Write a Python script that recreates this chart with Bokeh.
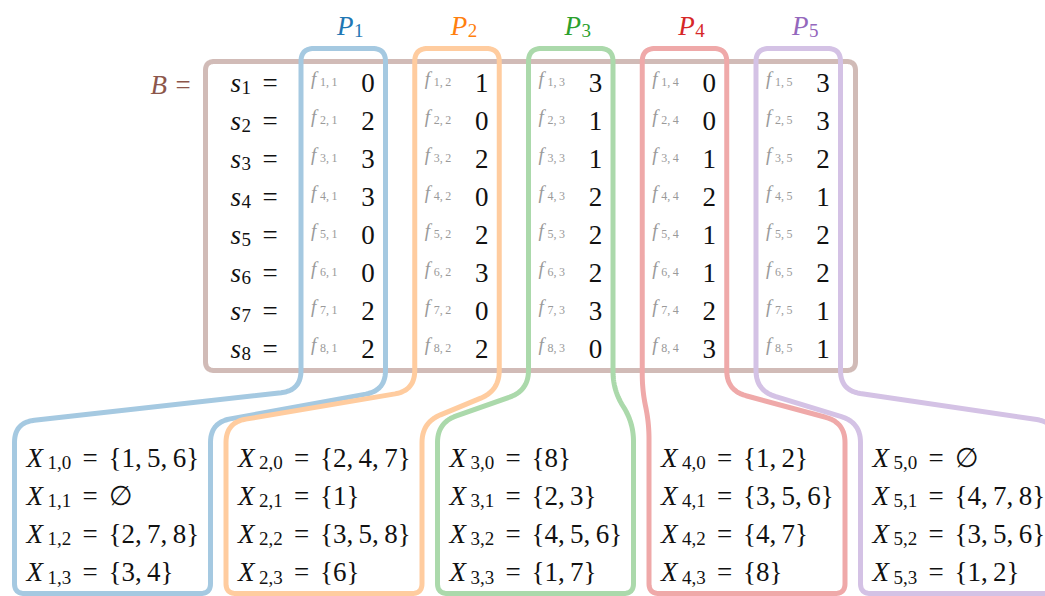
import math
from bokeh.plotting import figure
from bokeh.models import Range1d, ColumnDataSource
from bokeh.core.properties import value
from bokeh.embed import file_html
from bokeh.resources import INLINE

# ---------------- data ----------------
part_names = ["1", "2", "3", "4", "5"]          # P_1 .. P_5
row_names = ["1", "2", "3", "4", "5", "6", "7", "8"]  # s_1 .. s_8
p1_values = [0, 2, 3, 3, 0, 0, 2, 2]
p2_values = [1, 0, 2, 0, 2, 3, 0, 2]
p3_values = [3, 1, 1, 2, 2, 2, 3, 0]
p4_values = [0, 0, 1, 2, 1, 1, 2, 3]
p5_values = [3, 3, 2, 1, 2, 2, 1, 1]
value_levels = [0, 1, 2, 3]
columns = [p1_values, p2_values, p3_values, p4_values, p5_values]

# ---------------- styles ----------------
part_colors = ["#1f77b4", "#ff7f0e", "#2ca02c", "#d62728", "#9467bd"]
b_color = "#8c564b"
f_color = "#9a9a9a"
txt_color = "#111111"
FONT = "Liberation Serif"


def light(hexcol, a=0.4):
    h = hexcol.lstrip("#")
    r, g, b = (int(h[i:i + 2], 16) for i in (0, 2, 4))
    mix = lambda c: int(round(a * c + (1 - a) * 255))
    return "#%02x%02x%02x" % (mix(r), mix(g), mix(b))


# ---------------- layout ----------------
W, H = 1045, 596
TOP_L0, TOP_DX, TOP_W, TOP_Y = 300.5, 113.75, 84.5, 48
BOT_L0, BOT_DX, BOT_W, BOT_Y = 14, 211.5, 196, 593
BEND_Y1, BEND_Y2 = 390, 422
ROW_Y0, ROW_DY = 82, 38
SET_Y0, SET_DY = 457, 38.2
B_BOX = (205, 61, 855, 370)

p = figure(width=W, height=H, x_range=Range1d(0, W), y_range=Range1d(H, 0),
           output_backend="svg", toolbar_location=None, x_axis_type=None, y_axis_type=None,
           min_border=0)
p.grid.visible = False
p.outline_line_color = None
p.background_fill_color = "white"
p.border_fill_color = "white"


def rounded_closed(pts, radii, n=14):
    xs, ys = [], []
    N = len(pts)
    for i in range(N):
        vx, vy = pts[i]
        ax, ay = pts[i - 1]
        bx, by = pts[(i + 1) % N]
        da = math.hypot(ax - vx, ay - vy)
        db = math.hypot(bx - vx, by - vy)
        r = min(radii[i], da / 2, db / 2)
        p0 = (vx + r * (ax - vx) / da, vy + r * (ay - vy) / da)
        p2 = (vx + r * (bx - vx) / db, vy + r * (by - vy) / db)
        for k in range(n + 1):
            t = k / n
            xs.append((1 - t) ** 2 * p0[0] + 2 * (1 - t) * t * vx + t ** 2 * p2[0])
            ys.append((1 - t) ** 2 * p0[1] + 2 * (1 - t) * t * vy + t ** 2 * p2[1])
    xs.append(xs[0])
    ys.append(ys[0])
    return xs, ys


# B box
x0, y0, x1, y1 = B_BOX
bx, by = rounded_closed([(x0, y0), (x1, y0), (x1, y1), (x0, y1)], [9, 9, 9, 9])
p.line(bx, by, line_color=light(b_color), line_width=5, line_join="round")

# P paths
for j in range(len(part_names)):
    L = TOP_L0 + j * TOP_DX
    R = L + TOP_W
    Lb = BOT_L0 + j * BOT_DX
    Rb = Lb + BOT_W
    pts = [(L, TOP_Y), (R, TOP_Y), (R, BEND_Y1), (Rb, BEND_Y2), (Rb, BOT_Y),
           (Lb, BOT_Y), (Lb, BEND_Y2), (L, BEND_Y1)]
    radii = [13, 13, 20, 20, 10, 10, 20, 20]
    xs, ys = rounded_closed(pts, radii)
    p.line(xs, ys, line_color=light(part_colors[j]), line_width=5, line_join="round")


def add_text(xs, ys, texts, size, color, italic=False, align="left"):
    cols = color if isinstance(color, list) else [color] * len(xs)
    src = ColumnDataSource(dict(x=xs, y=ys, text=texts, color=cols))
    p.text(x="x", y="y", text="text", source=src, text_color="color",
           text_font=value(FONT), text_font_size=value(size),
           text_font_style="italic" if italic else "normal",
           text_align=align, text_baseline="alphabetic")


MAIN = "27px"
SUB = "19px"

# B =
add_text([150], [84], ["B"], MAIN, b_color, italic=True)
add_text([175], [84], ["="], MAIN, b_color)

# s_i =
rows_y = [ROW_Y0 + i * ROW_DY for i in range(len(row_names))]
add_text([230] * 8, rows_y, ["s"] * 8, MAIN, txt_color, italic=True)
add_text([241] * 8, [y + 5 for y in rows_y], row_names, SUB, txt_color)
add_text([262] * 8, rows_y, ["="] * 8, MAIN, txt_color)

# P labels
PL = [TOP_L0 + j * TOP_DX for j in range(len(part_names))]
add_text([L + 36 for L in PL], [25] * 5, ["P"] * 5, MAIN, part_colors, italic=True)
add_text([L + 53 for L in PL], [30] * 5, part_names, SUB, part_colors)

# f labels and values
fx, fy, sx, sy, st, vx, vy, vt = [], [], [], [], [], [], [], []
for j, col in enumerate(columns):
    L = PL[j]
    for i, v in enumerate(col):
        fx.append(L + 10); fy.append(rows_y[i] - 4)
        sx.append(L + 19); sy.append(rows_y[i] - 1); st.append(row_names[i] + ",\u2009" + part_names[j])
        vx.append(L + 67); vy.append(rows_y[i]); vt.append(str(v))
add_text(fx, fy, ["f"] * len(fx), "19px", f_color, italic=True)
add_text(sx, sy, st, "12px", f_color)
add_text(vx, vy, vt, MAIN, txt_color, align="center")

# X_{j,k} = {...}
Xx, Xy, Sx, Sy, St, Ex, Tx, Tt = [], [], [], [], [], [], [], []
for j, col in enumerate(columns):
    Lb = BOT_L0 + j * BOT_DX
    for k, lev in enumerate(value_levels):
        base = SET_Y0 + k * SET_DY
        members = [row_names[i] for i, v in enumerate(col) if v == lev]
        s = "{" + ",\u2009".join(members) + "}" if members else "\u2205"
        Xx.append(Lb + 12); Xy.append(base)
        Sx.append(Lb + 33); Sy.append(base + 5); St.append(part_names[j] + "," + str(lev))
        Ex.append(Lb + 68); Tx.append(Lb + 94); Tt.append(s)
add_text(Xx, Xy, ["X"] * len(Xx), MAIN, txt_color, italic=True)
add_text(Sx, Sy, St, SUB, txt_color)
add_text(Ex, Xy, ["="] * len(Ex), MAIN, txt_color)
add_text(Tx, Xy, Tt, MAIN, txt_color)

open("out.html", "w").write(file_html(p, INLINE))
